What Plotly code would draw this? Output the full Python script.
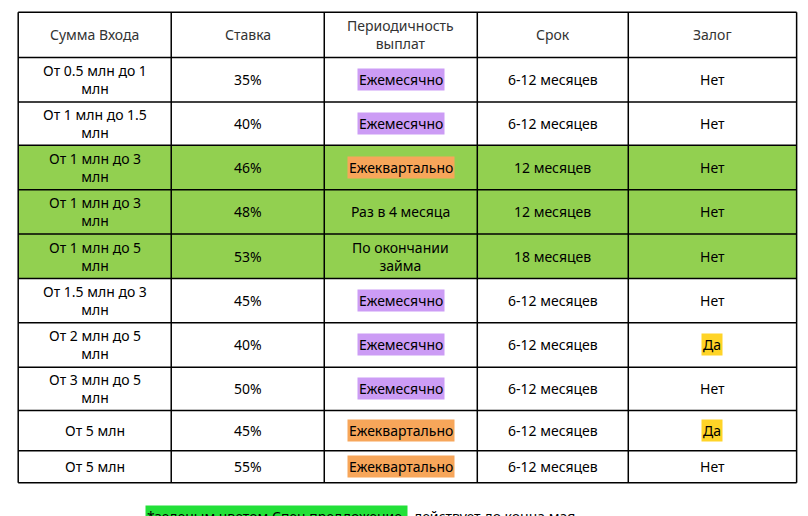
import plotly.graph_objects as go

headers = ["Сумма Входа", "Ставка", "Периодичность<br>выплат", "Срок", "Залог"]
amounts = ["От 0.5 млн до 1<br>млн", "От 1 млн до 1.5<br>млн", "От 1 млн до 3<br>млн", "От 1 млн до 3<br>млн",
           "От 1 млн до 5<br>млн", "От 1.5 млн до 3<br>млн", "От 2 млн до 5<br>млн", "От 3 млн до 5<br>млн",
           "От 5 млн", "От 5 млн"]
rates = ["35%", "40%", "46%", "48%", "53%", "45%", "40%", "50%", "45%", "55%"]
periods = ["Ежемесячно", "Ежемесячно", "Ежеквартально", "Раз в 4 месяца", "По окончании<br>займа",
           "Ежемесячно", "Ежемесячно", "Ежемесячно", "Ежеквартально", "Ежеквартально"]
terms = ["6-12 месяцев", "6-12 месяцев", "12 месяцев", "12 месяцев", "18 месяцев",
         "6-12 месяцев", "6-12 месяцев", "6-12 месяцев", "6-12 месяцев", "6-12 месяцев"]
pledge = ["Нет", "Нет", "Нет", "Нет", "Нет", "Нет", "Да", "Нет", "Да", "Нет"]
special = [False, False, True, True, True, False, False, False, False, False]
footnote_green = "*зеленым цветом Спец предложение,"
footnote_rest = " действует до конца мая"

col_x = [18, 168, 318, 468, 616, 781]
row_y = [12, 56, 99, 141, 184, 227, 270, 313, 356, 398, 437, 468]

GREEN = "#92d050"
PURPLE = "#cc9cf5"
ORANGE = "#f7a65a"
YELLOW = "#ffd427"
FONT = "Noto Sans"

fig = go.Figure()
fig.add_trace(go.Scatter(x=[10, 798], y=[10, 506], mode="markers", marker=dict(opacity=0), hoverinfo="skip"))

shapes, ann = [], []
for i in range(len(amounts)):
    if special[i]:
        shapes.append(dict(type="rect", x0=col_x[0], x1=col_x[-1], y0=row_y[i+1], y1=row_y[i+2],
                           fillcolor=GREEN, line=dict(width=0), layer="below"))
for y in row_y:
    shapes.append(dict(type="line", x0=col_x[0], x1=col_x[-1], y0=y, y1=y, line=dict(color="black", width=1.5)))
for x in col_x:
    shapes.append(dict(type="line", x0=x, x1=x, y0=row_y[0], y1=row_y[-1], line=dict(color="black", width=1.5)))

def cell(c, r, text, bg=None, color="black"):
    a = dict(x=(col_x[c]+col_x[c+1])/2, y=(row_y[r]+row_y[r+1])/2, text=text, showarrow=False,
             font=dict(family=FONT, size=14, color=color), xanchor="center", yanchor="middle")
    if bg:
        a.update(bgcolor=bg, borderpad=1)
    ann.append(a)

for c, h in enumerate(headers):
    cell(c, 0, h, color="#333")

def period_bg(p):
    if p == "Ежемесячно":
        return PURPLE
    if p == "Ежеквартально":
        return ORANGE
    return None

for i in range(len(amounts)):
    r = i + 1
    cell(0, r, amounts[i])
    cell(1, r, rates[i])
    cell(2, r, periods[i], period_bg(periods[i]))
    cell(3, r, terms[i])
    cell(4, r, pledge[i], YELLOW if pledge[i] == "Да" else None)

ann.append(dict(x=400, y=501, text=footnote_green, showarrow=False, xanchor="right", yanchor="middle",
                font=dict(family=FONT, size=14, color="black"), bgcolor="#22e038", borderpad=1))
ann.append(dict(x=400, y=501, text=footnote_rest, showarrow=False, xanchor="left", yanchor="middle",
                font=dict(family=FONT, size=14, color="black")))

fig.update_layout(width=808, height=516, margin=dict(l=0, r=0, t=0, b=0),
                  plot_bgcolor="white", paper_bgcolor="white", showlegend=False,
                  shapes=shapes, annotations=ann,
                  xaxis=dict(range=[8, 800], visible=False, fixedrange=True),
                  yaxis=dict(range=[508, 8], visible=False, fixedrange=True))
fig.write_html("out.html", config={"displayModeBar": False})
